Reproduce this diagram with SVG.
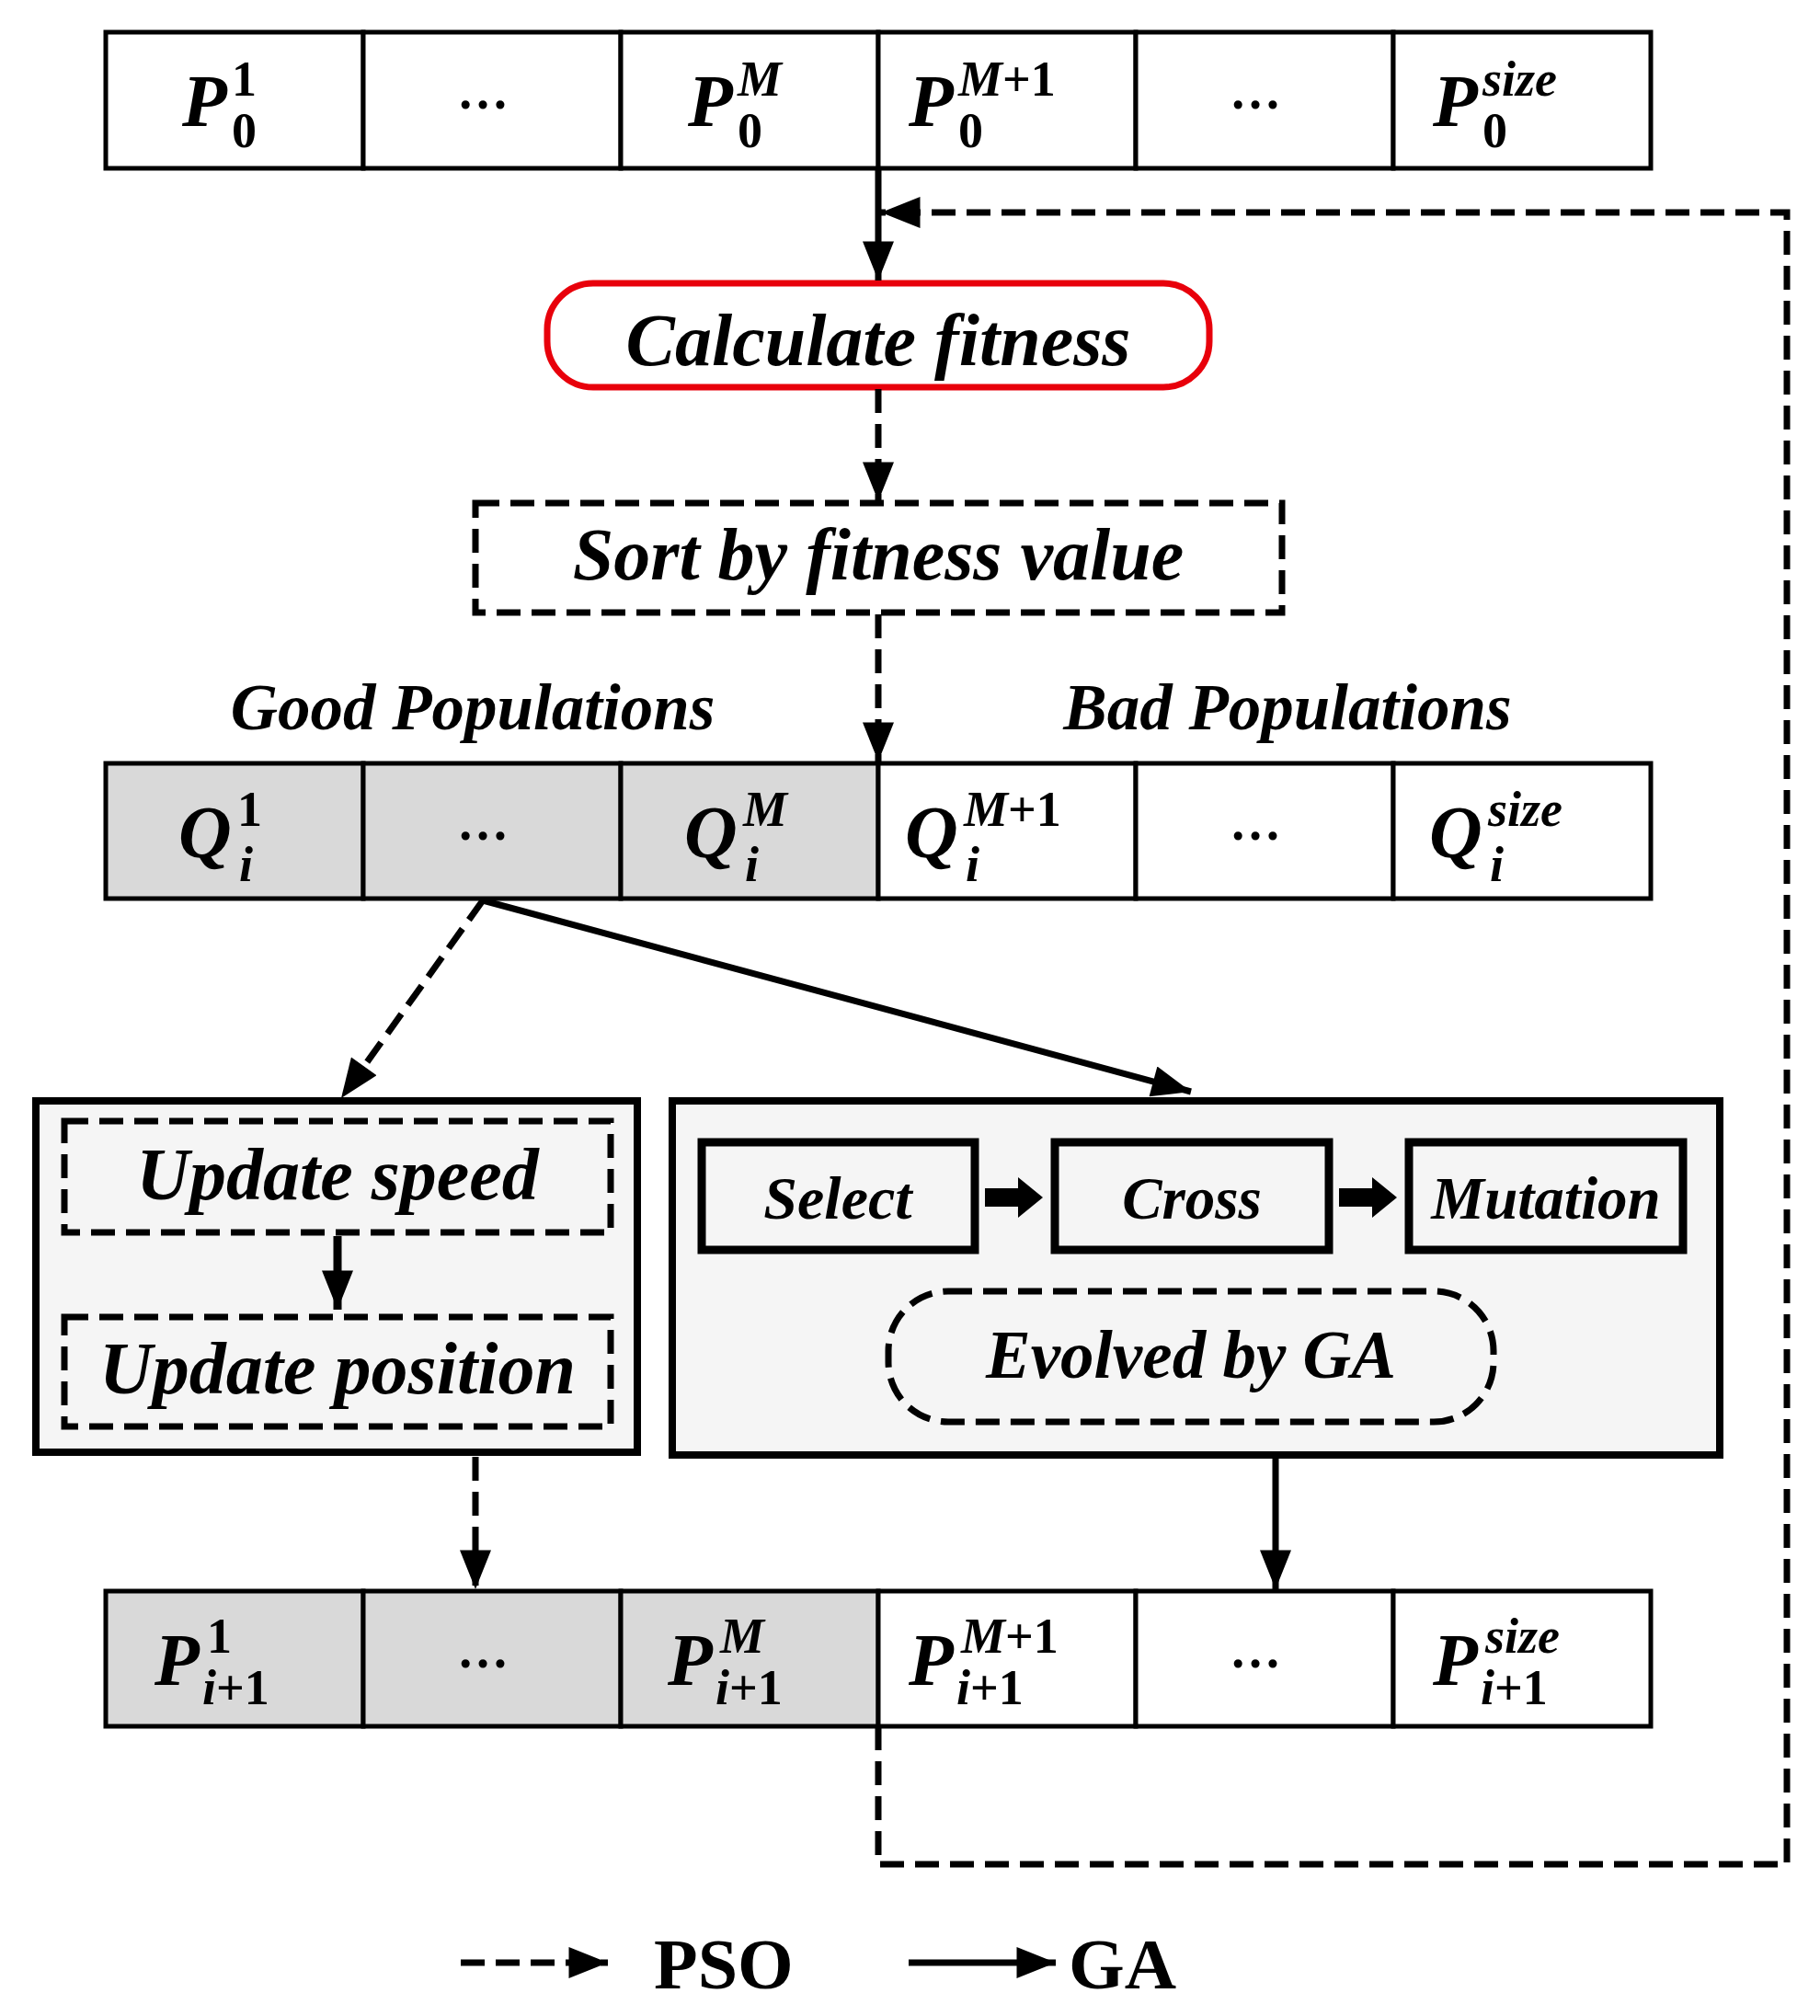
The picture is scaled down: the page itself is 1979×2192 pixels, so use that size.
<svg xmlns="http://www.w3.org/2000/svg" width="1979" height="2192" viewBox="0 0 1979 2192">
<style>
.cell{stroke:#000;stroke-width:5;fill:#fff}
.g{fill:#d9d9d9}
.m{font-family:"Liberation Serif",serif;font-weight:bold;fill:#000}
.i{font-style:italic}
.t{font-family:"Liberation Serif",serif;font-weight:bold;font-style:italic;fill:#000;text-anchor:middle}
.dash{stroke:#000;stroke-width:7;stroke-dasharray:26 12;fill:none}
.solid{stroke:#000;stroke-width:7;fill:none}
</style>
<defs>
<marker id="a" viewBox="0 0 10 8" refX="10" refY="4" markerWidth="44" markerHeight="34" markerUnits="userSpaceOnUse" orient="auto"><path d="M0,0 L10,4 L0,8 z" fill="#000"/></marker>
</defs>

<g id="row1">
<rect class="cell" x="115" y="35" width="280" height="148"/><rect class="cell" x="395" y="35" width="280" height="148"/><rect class="cell" x="675" y="35" width="280" height="148"/><rect class="cell" x="955" y="35" width="280" height="148"/><rect class="cell" x="1235" y="35" width="280" height="148"/><rect class="cell" x="1515" y="35" width="280" height="148"/>
<text class="m i" x="198" y="137" font-size="80">P</text><text class="m" x="252" y="104" font-size="54">1</text><text class="m" x="252" y="160" font-size="54">0</text>
<text class="m" x="525" y="118" font-size="56" text-anchor="middle">…</text>
<text class="m i" x="748" y="137" font-size="80">P</text><text class="m i" x="802" y="104" font-size="54">M</text><text class="m" x="802" y="160" font-size="54">0</text>
<text class="m i" x="988" y="137" font-size="80">P</text><text class="m" x="1042" y="104" font-size="54"><tspan font-style="italic">M</tspan>+1</text><text class="m" x="1042" y="160" font-size="54">0</text>
<text class="m" x="1365" y="118" font-size="56" text-anchor="middle">…</text>
<text class="m i" x="1558" y="137" font-size="80">P</text><text class="m i" x="1612" y="104" font-size="54">size</text><text class="m" x="1612" y="160" font-size="54">0</text>
</g>

<g id="calc">
<rect x="595" y="308" width="720" height="113" rx="50" fill="#fff" stroke="#e8000b" stroke-width="7"/>
<text class="t" x="955" y="397" font-size="80">Calculate fitness</text>
</g>

<g id="sort">
<rect x="517" y="547" width="877" height="119" fill="#fff" class="dash"/>
<text class="t" x="955" y="630" font-size="80">Sort by fitness value</text>
</g>

<g id="labels">
<text class="t" x="514" y="793" font-size="71">Good Populations</text>
<text class="t" x="1400" y="793" font-size="71">Bad Populations</text>
</g>

<g id="row2">
<rect class="cell g" x="115" y="830" width="280" height="147"/><rect class="cell g" x="395" y="830" width="280" height="147"/><rect class="cell g" x="675" y="830" width="280" height="147"/><rect class="cell" x="955" y="830" width="280" height="147"/><rect class="cell" x="1235" y="830" width="280" height="147"/><rect class="cell" x="1515" y="830" width="280" height="147"/>
<text class="m i" x="194" y="932" font-size="80">Q</text><text class="m" x="258" y="898" font-size="54">1</text><text class="m i" x="260" y="958" font-size="54">i</text>
<text class="m" x="525" y="913" font-size="56" text-anchor="middle">…</text>
<text class="m i" x="744" y="932" font-size="80">Q</text><text class="m i" x="808" y="898" font-size="54">M</text><text class="m i" x="810" y="958" font-size="54">i</text>
<text class="m i" x="984" y="932" font-size="80">Q</text><text class="m" x="1048" y="898" font-size="54"><tspan font-style="italic">M</tspan>+1</text><text class="m i" x="1050" y="958" font-size="54">i</text>
<text class="m" x="1365" y="913" font-size="56" text-anchor="middle">…</text>
<text class="m i" x="1554" y="932" font-size="80">Q</text><text class="m i" x="1618" y="898" font-size="54">size</text><text class="m i" x="1620" y="958" font-size="54">i</text>
</g>

<g id="pso">
<rect x="39" y="1197" width="654" height="382" fill="#f5f5f5" stroke="#000" stroke-width="8"/>
<rect x="70" y="1219" width="594" height="121" fill="#f5f5f5" class="dash"/>
<text class="t" x="367" y="1304" font-size="80">Update speed</text>
<rect x="70" y="1432" width="594" height="119" fill="#f5f5f5" class="dash"/>
<text class="t" x="367" y="1515" font-size="80">Update position</text>
<line x1="367" y1="1344" x2="367" y2="1424" stroke="#000" stroke-width="9" marker-end="url(#a)"/>
</g>

<g id="ga">
<rect x="731" y="1197" width="1139" height="385" fill="#f5f5f5" stroke="#000" stroke-width="8"/>
<rect x="763" y="1242" width="297" height="117" fill="#f5f5f5" stroke="#000" stroke-width="9"/>
<text class="t" x="911" y="1325" font-size="66">Select</text>
<rect x="1147" y="1242" width="298" height="117" fill="#f5f5f5" stroke="#000" stroke-width="9"/>
<text class="t" x="1296" y="1325" font-size="65">Cross</text>
<rect x="1532" y="1242" width="298" height="117" fill="#f5f5f5" stroke="#000" stroke-width="9"/>
<text class="t" x="1681" y="1325" font-size="65">Mutation</text>
<path d="M1071,1292 h36 v-12 l27,22 l-27,22 v-12 h-36 z" fill="#000"/>
<path d="M1456,1292 h36 v-12 l27,22 l-27,22 v-12 h-36 z" fill="#000"/>
<rect x="966" y="1404" width="658" height="142" rx="65" fill="#f5f5f5" class="dash"/>
<text class="t" x="1295" y="1498" font-size="73">Evolved by GA</text>
</g>

<g id="row3">
<rect class="cell g" x="115" y="1730" width="280" height="147"/><rect class="cell g" x="395" y="1730" width="280" height="147"/><rect class="cell g" x="675" y="1730" width="280" height="147"/><rect class="cell" x="955" y="1730" width="280" height="147"/><rect class="cell" x="1235" y="1730" width="280" height="147"/><rect class="cell" x="1515" y="1730" width="280" height="147"/>
<text class="m i" x="168" y="1832" font-size="80">P</text><text class="m" x="225" y="1797" font-size="54">1</text><text class="m" x="220" y="1853" font-size="54"><tspan font-style="italic">i</tspan>+1</text>
<text class="m" x="525" y="1813" font-size="56" text-anchor="middle">…</text>
<text class="m i" x="726" y="1832" font-size="80">P</text><text class="m i" x="783" y="1797" font-size="54">M</text><text class="m" x="778" y="1853" font-size="54"><tspan font-style="italic">i</tspan>+1</text>
<text class="m i" x="988" y="1832" font-size="80">P</text><text class="m" x="1045" y="1797" font-size="54"><tspan font-style="italic">M</tspan>+1</text><text class="m" x="1040" y="1853" font-size="54"><tspan font-style="italic">i</tspan>+1</text>
<text class="m" x="1365" y="1813" font-size="56" text-anchor="middle">…</text>
<text class="m i" x="1558" y="1832" font-size="80">P</text><text class="m i" x="1615" y="1797" font-size="54">size</text><text class="m" x="1610" y="1853" font-size="54"><tspan font-style="italic">i</tspan>+1</text>
</g>

<g id="connectors">
<line class="solid" x1="955" y1="185" x2="955" y2="305" marker-end="url(#a)"/>
<polyline class="dash" points="955,1877 955,2027 1943,2027 1943,231 958,231" marker-end="url(#a)"/>
<line class="dash" x1="955" y1="423" x2="955" y2="545" marker-end="url(#a)"/>
<line class="dash" x1="955" y1="668" x2="955" y2="828" marker-end="url(#a)"/>
<line class="dash" x1="525" y1="979" x2="371" y2="1194" marker-end="url(#a)"/>
<line class="solid" x1="525" y1="979" x2="1295" y2="1187" marker-end="url(#a)"/>
<line class="dash" x1="517" y1="1584" x2="517" y2="1728" marker-end="url(#a)"/>
<line class="solid" x1="1387" y1="1584" x2="1387" y2="1728" marker-end="url(#a)"/>
</g>

<g id="legend">
<line class="dash" x1="501" y1="2134" x2="661" y2="2134" marker-end="url(#a)"/>
<text class="m" x="711" y="2162" font-size="78">PSO</text>
<line class="solid" x1="988" y1="2134" x2="1148" y2="2134" marker-end="url(#a)"/>
<text class="m" x="1162" y="2162" font-size="78">GA</text>
</g>
</svg>
